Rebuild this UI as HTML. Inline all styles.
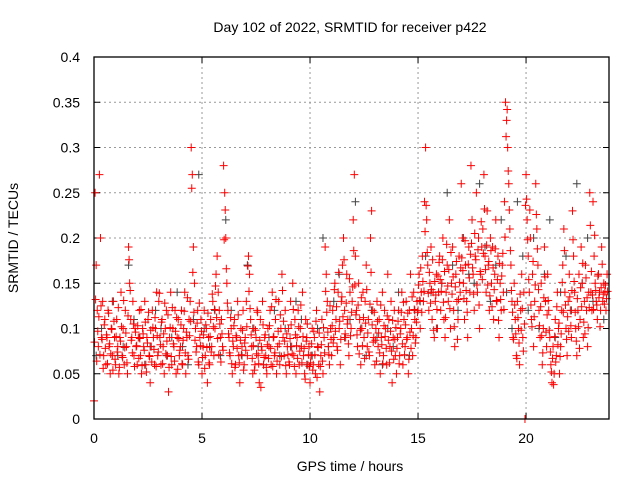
<!DOCTYPE html>
<html><head><meta charset="utf-8"><style>
body{margin:0;background:#fff}
svg{display:block;font-family:"Liberation Sans",sans-serif}
</style></head><body>
<svg id="chart" width="640" height="480">
<text x="350" y="32" text-anchor="middle" font-size="14">Day 102 of 2022, SRMTID for receiver p422</text>
<text x="350" y="471" text-anchor="middle" font-size="14">GPS time / hours</text>
<text transform="translate(18,238) rotate(-90)" text-anchor="middle" font-size="14">SRMTID / TECUs</text>
<g id="grid"></g><g id="ticks"></g><g id="gray"></g><g id="red"></g>
<rect x="94" y="57" width="515" height="362" fill="none" stroke="#000" stroke-width="1.3"/>
</svg>
<script>
const xTicks=[0,5,10,15,20];
const yTicks=[0,0.05,0.1,0.15,0.2,0.25,0.3,0.35,0.4];
const yTickLabels=["0","0.05","0.1","0.15","0.2","0.25","0.3","0.35","0.4"];
const redStep=0.05;
const redValues=[0.02,.25,.17,.12,.08,.27,.20,.09,.13,.07,.11,.06,.09,.12,.08,.05,.10,.07,.13,.09,
.06,.11,.08,.05,.09,.14,.07,.10,.06,.12,.08,.05,.19,.15,.11,.09,.13,.07,.10,.08,
.06,.09,.12,.07,.05,.10,.08,.13,.06,.09,.11,.07,.04,.08,.12,.09,.06,.10,.14,.07,
.13,.09,.06,.11,.08,.05,.10,.12,.07,.03,.09,.14,.06,.10,.08,.12,.05,.09,.11,.07,
.08,.12,.06,.10,.14,.05,.09,.07,.11,.13,.30,.27,.19,.15,.10,.08,.12,.06,.09,.11,
.05,.08,.12,.07,.10,.04,.09,.06,.11,.08,.13,.07,.10,.16,.18,.14,.12,.09,.11,.08,
.28,.25,.20,.15,.12,.09,.07,.10,.05,.08,.11,.06,.09,.13,.07,.04,.10,.08,.12,.06,
.09,.13,.07,.18,.16,.11,.08,.05,.10,.06,.09,.12,.07,.04,.11,.08,.13,.06,.09,.07,
.05,.10,.08,.12,.06,.14,.09,.07,.11,.05,.08,.13,.06,.10,.16,.09,.07,.12,.05,.08,
.10,.06,.13,.08,.15,.07,.11,.05,.09,.12,.06,.10,.08,.14,.07,.05,.11,.09,.06,.08,
.04,.07,.10,.06,.09,.05,.12,.08,.06,.03,.07,.11,.05,.09,.19,.16,.13,.08,.06,.10,
.07,.12,.09,.15,.11,.08,.14,.10,.06,.13,.17,.20,.12,.09,.16,.11,.07,.14,.10,.13,
.22,.27,.18,.12,.08,.15,.11,.06,.10,.14,.09,.13,.17,.08,.11,.07,.20,.23,.12,.09,
.06,.10,.13,.08,.11,.05,.09,.14,.07,.12,.10,.06,.16,.11,.08,.13,.04,.09,.12,.07,
.05,.09,.12,.07,.10,.14,.06,.11,.08,.13,.09,.05,.12,.16,.10,.07,.14,.11,.09,.13,
.12,.16,.10,.14,.18,.13,.24,.30,.22,.17,.12,.15,.19,.11,.14,.09,.13,.16,.10,.14,
.18,.12,.15,.20,.11,.09,.14,.17,.13,.22,.10,.15,.19,.12,.08,.16,.13,.11,.18,.14,
.26,.20,.15,.11,.17,.13,.09,.19,.14,.28,.22,.16,.12,.18,.25,.14,.20,.10,.16,.19,
.21,.27,.18,.14,.23,.17,.12,.20,.15,.19,.11,.16,.22,.13,.18,.09,.15,.12,.17,.14,
.24,.35,.33,.30,.26,.21,.17,.13,.09,.15,.11,.07,.13,.10,.06,.12,.16,.09,.14,.00,
.27,.22,.18,.14,.20,.11,.16,.08,.13,.26,.21,.17,.12,.09,.15,.06,.10,.19,.13,.08,
.16,.12,.09,.06,.04,.08,.05,.11,.07,.14,.10,.05,.08,.12,.17,.21,.14,.10,.07,.13,
.16,.12,.09,.23,.18,.14,.10,.07,.12,.16,.11,.19,.15,.09,.13,.17,.12,.08,.14,.25,
.14,.12,.24,.18,.15,.13,.11,.16,.14,.12,.19,.13,.15,.14,.12,.16];
const redValues2=[.085,.132,.064,.097,.113,.071,.125,.088,.056,.104,.078,.093,.061,.117,.083,.072,.099,.054,.108,.066,
.091,.074,.123,.057,.086,.102,.068,.131,.079,.095,.062,.114,.176,.142,.087,.073,.105,.058,.096,.081,
.103,.067,.089,.121,.059,.094,.076,.107,.052,.084,.118,.069,.098,.063,.101,.077,.112,.058,.092,.074,
.139,.082,.107,.061,.094,.128,.072,.086,.115,.057,.101,.069,.123,.083,.064,.097,.112,.055,.089,.076,
.104,.061,.087,.119,.073,.096,.134,.066,.092,.108,.255,.162,.118,.087,.074,.106,.063,.128,.081,.097,
.068,.093,.056,.104,.079,.117,.062,.091,.074,.138,.102,.121,.147,.112,.089,.071,.105,.063,.094,.076,
.198,.231,.166,.128,.094,.073,.112,.061,.086,.103,.057,.092,.078,.115,.062,.087,.071,.098,.054,.084,
.076,.102,.169,.141,.122,.093,.067,.081,.054,.098,.072,.118,.061,.087,.035,.076,.104,.068,.093,.057,
.082,.067,.103,.078,.124,.058,.091,.073,.132,.064,.097,.083,.115,.069,.142,.108,.086,.059,.094,.071,
.063,.089,.104,.072,.121,.058,.093,.081,.067,.102,.075,.126,.062,.091,.078,.044,.086,.105,.071,.058,
.062,.083,.054,.097,.071,.108,.046,.079,.095,.058,.082,.064,.101,.073,.141,.118,.096,.071,.125,.088,
.103,.084,.143,.097,.124,.076,.162,.108,.088,.135,.113,.176,.094,.128,.105,.083,.155,.092,.118,.146,
.186,.148,.115,.093,.126,.072,.098,.134,.081,.112,.067,.106,.143,.095,.074,.127,.162,.104,.085,.118,
.087,.064,.108,.095,.073,.126,.082,.061,.103,.091,.078,.114,.087,.062,.097,.075,.109,.066,.088,.101,
.078,.108,.061,.094,.118,.083,.129,.071,.104,.088,.117,.066,.096,.078,.135,.092,.121,.084,.107,.118,
.148,.131,.167,.118,.152,.141,.207,.236,.184,.139,.162,.128,.143,.176,.098,.152,.137,.121,.158,.173,
.154,.141,.176,.129,.163,.112,.193,.147,.165,.122,.184,.138,.157,.102,.146,.174,.088,.132,.151,.167,
.178,.164,.133,.197,.142,.118,.171,.156,.182,.194,.167,.138,.205,.176,.148,.187,.126,.163,.218,.154,
.183,.232,.165,.192,.148,.174,.136,.186,.124,.167,.143,.188,.131,.154,.109,.172,.132,.158,.183,.121,
.201,.312,.342,.274,.231,.186,.142,.118,.088,.126,.094,.067,.112,.084,.138,.098,.122,.075,.105,.236,
.243,.198,.154,.231,.126,.102,.174,.113,.148,.226,.188,.143,.103,.124,.092,.073,.134,.157,.096,.115,
.131,.098,.074,.052,.067,.038,.091,.063,.124,.082,.106,.069,.094,.151,.118,.186,.126,.088,.113,.097,
.135,.103,.142,.198,.152,.118,.086,.133,.102,.078,.145,.124,.172,.107,.094,.156,.134,.101,.123,.214,
.163,.137,.121,.203,.142,.126,.158,.134,.102,.145,.171,.138,.127,.148,.133,.141];
const grayStep=0.25;
const grayValues=[.07,.10,.09,.13,.07,.08,.17,.11,.09,.06,.08,.12,.10,.07,.09,.14,.08,.06,.11,.27,.10,.08,.12,.07,.22,.12,.09,.07,.17,.10,.08,.06,.09,.12,.07,.10,.08,.13,.11,.06,.07,.10,.20,.08,.13,.16,.09,.11,.24,.10,.07,.12,.09,.06,.10,.08,.14,.11,.07,.12,.13,.18,.14,.10,.15,.25,.17,.12,.20,.16,.15,.26,.19,.13,.17,.22,.14,.10,.24,.18,.12,.20,.10,.16,.22,.09,.14,.18,.12,.26,.15,.20,.13,.16,.11];
const X0=94,X1=609,Y0=419,Y1=57,XMAX=23.84,YMAX=0.4;
const xs=t=>X0+(X1-X0)*t/XMAX, ys=v=>Y0-(Y0-Y1)*v/YMAX;
const NS="http://www.w3.org/2000/svg";
function mk(tag,attrs,parent){const e=document.createElementNS(NS,tag);for(const k in attrs)e.setAttribute(k,attrs[k]);document.getElementById(parent).appendChild(e);return e;}
xTicks.forEach((t,i)=>{
  const x=xs(t);
  if(i>0){const g=mk('line',{x1:x,y1:Y0,x2:x,y2:Y1,stroke:'#999','stroke-dasharray':'2,3'},'grid');
  
  }
  mk('line',{x1:x,y1:Y0,x2:x,y2:Y0-6,stroke:'#000'},'ticks');
  mk('line',{x1:x,y1:Y1,x2:x,y2:Y1+6,stroke:'#000'},'ticks');
  const l=mk('text',{x:x,y:443,'text-anchor':'middle','font-size':14},'ticks');
  l.textContent=String(t);
  
  
});
yTicks.forEach((v,i)=>{
  const y=ys(v);
  if(i>0&&i<yTicks.length-1){const g=mk('line',{x1:X0,y1:y,x2:X1,y2:y,stroke:'#999','stroke-dasharray':'2,3'},'grid');
  
  }
  mk('line',{x1:X0,y1:y,x2:X0+6,y2:y,stroke:'#000'},'ticks');
  mk('line',{x1:X1,y1:y,x2:X1-6,y2:y,stroke:'#000'},'ticks');
  const l=mk('text',{x:80,y:y+5,'text-anchor':'end','font-size':14},'ticks');
  l.textContent=yTickLabels[i];
  
  
});
function plus(x,y,c,parent,name){
  const p=mk('path',{d:`M${x-4},${y}h8M${x},${y-4}v8`,stroke:c,'stroke-width':1,fill:'none'},parent);
  
  
}
grayValues.forEach((v,i)=>plus(xs(i*grayStep+0.1),ys(v),'#444','gray','gray-point'));
redValues.forEach((v,i)=>plus(xs(i*redStep),ys(v),'#f00','red','red-point'));
redValues2.forEach((v,i)=>plus(xs(i*redStep+0.025),ys(v),'#f00','red','red-point'));
</script>
</body></html>
